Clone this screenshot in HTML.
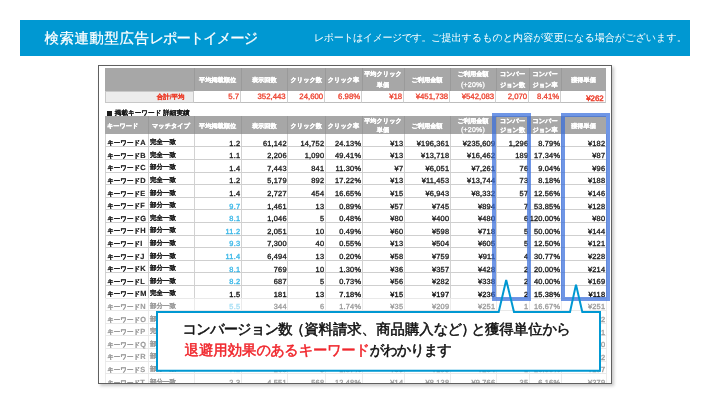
<!DOCTYPE html>
<html lang="ja"><head><meta charset="utf-8">
<style>
*{margin:0;padding:0;box-sizing:border-box}
html,body{width:710px;height:404px;overflow:hidden;background:#fff}
body{position:relative;font-family:"Liberation Sans",sans-serif;text-rendering:geometricPrecision}
.wrap{position:absolute;left:0;top:0;width:710px;height:404px;will-change:transform}
.bar{position:absolute;left:20px;top:20px;width:670px;height:36px;background:#0098d2}
.title{position:absolute;left:44.6px;top:29px;font-size:14.4px;line-height:20px;color:#fff;white-space:nowrap;-webkit-text-stroke:.25px #fff;letter-spacing:.6px}
.title .k{letter-spacing:-1.2px}
.sub{position:absolute;left:314px;top:32px;font-size:10.08px;line-height:14px;color:#fff;white-space:nowrap}
.frame{position:absolute;left:97.5px;top:64.8px;width:514.5px;height:319px;border:1.3px solid #606060;background:#fff;box-shadow:2px 2px 3px rgba(0,0,0,.22)}
.tbl{position:absolute;left:0;top:0;width:710px;height:383px;clip-path:inset(66px 99px 0 99px)}
.hd{position:absolute;background:#a7a7a7}
.hv{position:absolute;width:1px;background:#9a9a9a}
.ht,.ht2{position:absolute;display:flex;align-items:center;justify-content:center;text-align:center;color:#fff;font-weight:bold;font-size:6.2px;line-height:10.3px;white-space:nowrap;padding-top:1.2px;-webkit-text-stroke:.3px #fff}
.ht{padding-top:2.6px}
.ht.one{padding-top:4.4px}
.ht2{line-height:8.6px;padding-top:3.6px}
.ht2.l{justify-content:flex-start;padding-left:2px}
.sm0{position:absolute;background:#ececec;border:1px solid #c8c8c8;color:#ec3f2c;font-weight:bold;font-size:6.5px;text-align:right;padding-right:8.5px;line-height:11px;-webkit-text-stroke:.2px currentColor}
.sm{position:absolute;border-bottom:1px solid #bdbdbd;border-right:1px solid #d0d0d0;color:#ec3f2c;font-size:7.8px;text-align:right;padding-right:.8px;padding-top:.7px;line-height:11px;-webkit-text-stroke:.3px currentColor}
.sm.big{font-size:7.9px;line-height:11px;padding-top:2.6px;padding-right:1.3px;-webkit-text-stroke:.45px currentColor}
.lbl{position:absolute;left:107.3px;top:110.4px;font-size:6.6px;line-height:8px;font-weight:bold;color:#1a1a1a;white-space:nowrap;-webkit-text-stroke:.1px currentColor}
.sq{display:inline-block;width:4.5px;height:4.5px;background:#1a1a1a;margin-right:3px;vertical-align:-0.2px}
.gv{position:absolute;width:1px;background:#d2d2d2}
.gh{position:absolute;height:1px;background:#cfcfcf}
.c{position:absolute;height:12.6px;line-height:12px;padding-top:3.1px;white-space:nowrap;color:#1e1e1e}
.kw{padding-left:2.2px;font-size:6.5px;font-weight:bold;-webkit-text-stroke:.15px currentColor}
.mt{padding-left:2px;font-size:6.5px;font-weight:bold;-webkit-text-stroke:.12px currentColor}
.n{text-align:right;padding-right:.8px;padding-top:3.4px;font-size:7.4px;letter-spacing:.2px;-webkit-text-stroke:.35px currentColor}
.bl{color:#3cb8e8}
.kl{font-size:7.4px}
.n.bdr{color:#111}
.fade{position:absolute;left:99px;top:298px;width:512px;height:85px;background:rgba(255,255,255,.55)}
.hl{position:absolute;border:4.5px solid rgba(55,110,220,.72)}
.co{position:absolute;left:0;top:0}
.ct{position:absolute;left:182.5px;font-size:14.4px;line-height:20px;white-space:nowrap;color:#111;-webkit-text-stroke:.5px currentColor}
.po{margin-left:-.2em;position:relative;left:.5px}.pc2{letter-spacing:-.3em}.kn{letter-spacing:-1px}
.red{color:#f0262c}
.pc{font-size:7px;font-weight:normal;letter-spacing:.2px}
</style></head><body><div class="wrap">
<div class="bar"></div>
<div class="title">検索連動型広告<span class="k">レポートイメージ</span></div>
<div class="sub"><span style="letter-spacing:-.5px">レポートはイメージです。</span>ご提出するものと内容が変更になる場合がございます。</div>
<div class="frame"></div>
<div class="tbl">
<div class="hd" style="left:105px;top:68px;width:501px;height:22.5px"></div>
<div class="hv" style="left:193.5px;top:68px;height:22.5px"></div>
<div class="hv" style="left:240.5px;top:68px;height:22.5px"></div>
<div class="hv" style="left:287px;top:68px;height:22.5px"></div>
<div class="hv" style="left:324.5px;top:68px;height:22.5px"></div>
<div class="hv" style="left:361.5px;top:68px;height:22.5px"></div>
<div class="hv" style="left:403.5px;top:68px;height:22.5px"></div>
<div class="hv" style="left:449.5px;top:68px;height:22.5px"></div>
<div class="hv" style="left:495.5px;top:68px;height:22.5px"></div>
<div class="hv" style="left:528.5px;top:68px;height:22.5px"></div>
<div class="hv" style="left:560.5px;top:68px;height:22.5px"></div>
<div class="ht one" style="left:194px;top:68px;width:47px;height:22.5px"><span>平均掲載順位</span></div>
<div class="ht one" style="left:241px;top:68px;width:46.5px;height:22.5px"><span>表示回数</span></div>
<div class="ht one" style="left:287.5px;top:68px;width:37.5px;height:22.5px"><span>クリック数</span></div>
<div class="ht one" style="left:325px;top:68px;width:37px;height:22.5px"><span>クリック率</span></div>
<div class="ht" style="left:362px;top:68px;width:42px;height:22.5px"><span>平均クリック<br>単価</span></div>
<div class="ht one" style="left:404px;top:68px;width:46px;height:22.5px"><span>ご利用金額</span></div>
<div class="ht" style="left:450px;top:68px;width:46px;height:22.5px"><span>ご利用金額<br><span class=pc>(+20%)</span></span></div>
<div class="ht" style="left:496px;top:68px;width:33px;height:22.5px"><span>コンバー<br>ジョン数</span></div>
<div class="ht" style="left:529px;top:68px;width:32px;height:22.5px"><span>コンバー<br>ジョン率</span></div>
<div class="ht one" style="left:561px;top:68px;width:45px;height:22.5px"><span>獲得単価</span></div>
<div class="sm0" style="left:105px;top:90.5px;width:89px;height:12.5px">合計/平均</div>
<div class="sm" style="left:194px;top:90.5px;width:47px;height:12.5px">5.7</div>
<div class="sm" style="left:241px;top:90.5px;width:46.5px;height:12.5px">352,443</div>
<div class="sm" style="left:287.5px;top:90.5px;width:37.5px;height:12.5px">24,600</div>
<div class="sm" style="left:325px;top:90.5px;width:37px;height:12.5px">6.98%</div>
<div class="sm" style="left:362px;top:90.5px;width:42px;height:12.5px">¥18</div>
<div class="sm" style="left:404px;top:90.5px;width:46px;height:12.5px">¥451,738</div>
<div class="sm" style="left:450px;top:90.5px;width:46px;height:12.5px">¥542,083</div>
<div class="sm" style="left:496px;top:90.5px;width:33px;height:12.5px">2,070</div>
<div class="sm" style="left:529px;top:90.5px;width:32px;height:12.5px">8.41%</div>
<div class="sm big" style="left:561px;top:90.5px;width:45px;height:12.5px">¥262</div>
<div class="lbl"><span class=sq></span>掲載キーワード 詳細実績</div>
<div class="hd" style="left:105px;top:116.3px;width:501px;height:17.9px"></div>
<div class="hv" style="left:147.5px;top:116.3px;height:17.9px"></div>
<div class="hv" style="left:193.5px;top:116.3px;height:17.9px"></div>
<div class="hv" style="left:240.5px;top:116.3px;height:17.9px"></div>
<div class="hv" style="left:287px;top:116.3px;height:17.9px"></div>
<div class="hv" style="left:324.5px;top:116.3px;height:17.9px"></div>
<div class="hv" style="left:361.5px;top:116.3px;height:17.9px"></div>
<div class="hv" style="left:403.5px;top:116.3px;height:17.9px"></div>
<div class="hv" style="left:449.5px;top:116.3px;height:17.9px"></div>
<div class="hv" style="left:495.5px;top:116.3px;height:17.9px"></div>
<div class="hv" style="left:528.5px;top:116.3px;height:17.9px"></div>
<div class="hv" style="left:560.5px;top:116.3px;height:17.9px"></div>
<div class="ht2 l" style="left:105px;top:116.3px;width:43px;height:17.9px"><span>キーワード</span></div>
<div class="ht2" style="left:148px;top:116.3px;width:46px;height:17.9px"><span>マッチタイプ</span></div>
<div class="ht2" style="left:194px;top:116.3px;width:47px;height:17.9px"><span>平均掲載順位</span></div>
<div class="ht2" style="left:241px;top:116.3px;width:46.5px;height:17.9px"><span>表示回数</span></div>
<div class="ht2" style="left:287.5px;top:116.3px;width:37.5px;height:17.9px"><span>クリック数</span></div>
<div class="ht2" style="left:325px;top:116.3px;width:37px;height:17.9px"><span>クリック率</span></div>
<div class="ht2" style="left:362px;top:116.3px;width:42px;height:17.9px"><span>平均クリック<br>単価</span></div>
<div class="ht2" style="left:404px;top:116.3px;width:46px;height:17.9px"><span>ご利用金額</span></div>
<div class="ht2" style="left:450px;top:116.3px;width:46px;height:17.9px"><span>ご利用金額<br><span class=pc>(+20%)</span></span></div>
<div class="ht2" style="left:496px;top:116.3px;width:33px;height:17.9px"><span>コンバー<br>ジョン数</span></div>
<div class="ht2" style="left:529px;top:116.3px;width:32px;height:17.9px"><span>コンバー<br>ジョン率</span></div>
<div class="ht2" style="left:561px;top:116.3px;width:45px;height:17.9px"><span>獲得単価</span></div>
<div class="gv" style="left:104.5px;top:134.2px;height:252px"></div>
<div class="gv" style="left:147.5px;top:134.2px;height:252px"></div>
<div class="gv" style="left:193.5px;top:134.2px;height:252px"></div>
<div class="gv" style="left:240.5px;top:134.2px;height:252px"></div>
<div class="gv" style="left:287px;top:134.2px;height:252px"></div>
<div class="gv" style="left:324.5px;top:134.2px;height:252px"></div>
<div class="gv" style="left:361.5px;top:134.2px;height:252px"></div>
<div class="gv" style="left:403.5px;top:134.2px;height:252px"></div>
<div class="gv" style="left:449.5px;top:134.2px;height:252px"></div>
<div class="gv" style="left:495.5px;top:134.2px;height:252px"></div>
<div class="gv" style="left:528.5px;top:134.2px;height:252px"></div>
<div class="gv" style="left:560.5px;top:134.2px;height:252px"></div>
<div class="gv" style="left:605.5px;top:134.2px;height:252px"></div>
<div class="gh" style="left:105px;top:146.3px;width:501px"></div>
<div class="c kw" style="left:105px;top:134.2px;width:43px">キーワード<span class=kl>A</span></div>
<div class="c mt" style="left:148px;top:134.2px;width:46px">完全一致</div>
<div class="c n" style="left:194px;top:134.2px;width:47px">1.2</div>
<div class="c n" style="left:241px;top:134.2px;width:46.5px">61,142</div>
<div class="c n" style="left:287.5px;top:134.2px;width:37.5px">14,752</div>
<div class="c n" style="left:325px;top:134.2px;width:37px">24.13%</div>
<div class="c n" style="left:362px;top:134.2px;width:42px">¥13</div>
<div class="c n" style="left:404px;top:134.2px;width:46px">¥196,361</div>
<div class="c n" style="left:450px;top:134.2px;width:46px">¥235,609</div>
<div class="c n" style="left:496px;top:134.2px;width:33px">1,296</div>
<div class="c n" style="left:529px;top:134.2px;width:32px">8.79%</div>
<div class="c n" style="left:561px;top:134.2px;width:45px">¥182</div>
<div class="gh" style="left:105px;top:158.9px;width:501px"></div>
<div class="c kw" style="left:105px;top:146.8px;width:43px">キーワード<span class=kl>B</span></div>
<div class="c mt" style="left:148px;top:146.8px;width:46px">完全一致</div>
<div class="c n" style="left:194px;top:146.8px;width:47px">1.1</div>
<div class="c n" style="left:241px;top:146.8px;width:46.5px">2,206</div>
<div class="c n" style="left:287.5px;top:146.8px;width:37.5px">1,090</div>
<div class="c n" style="left:325px;top:146.8px;width:37px">49.41%</div>
<div class="c n" style="left:362px;top:146.8px;width:42px">¥13</div>
<div class="c n" style="left:404px;top:146.8px;width:46px">¥13,718</div>
<div class="c n" style="left:450px;top:146.8px;width:46px">¥16,462</div>
<div class="c n" style="left:496px;top:146.8px;width:33px">189</div>
<div class="c n" style="left:529px;top:146.8px;width:32px">17.34%</div>
<div class="c n" style="left:561px;top:146.8px;width:45px">¥87</div>
<div class="gh" style="left:105px;top:171.5px;width:501px"></div>
<div class="c kw" style="left:105px;top:159.4px;width:43px">キーワード<span class=kl>C</span></div>
<div class="c mt" style="left:148px;top:159.4px;width:46px">部分一致</div>
<div class="c n" style="left:194px;top:159.4px;width:47px">1.4</div>
<div class="c n" style="left:241px;top:159.4px;width:46.5px">7,443</div>
<div class="c n" style="left:287.5px;top:159.4px;width:37.5px">841</div>
<div class="c n" style="left:325px;top:159.4px;width:37px">11.30%</div>
<div class="c n" style="left:362px;top:159.4px;width:42px">¥7</div>
<div class="c n" style="left:404px;top:159.4px;width:46px">¥6,051</div>
<div class="c n" style="left:450px;top:159.4px;width:46px">¥7,261</div>
<div class="c n" style="left:496px;top:159.4px;width:33px">76</div>
<div class="c n" style="left:529px;top:159.4px;width:32px">9.04%</div>
<div class="c n" style="left:561px;top:159.4px;width:45px">¥96</div>
<div class="gh" style="left:105px;top:184.1px;width:501px"></div>
<div class="c kw" style="left:105px;top:172px;width:43px">キーワード<span class=kl>D</span></div>
<div class="c mt" style="left:148px;top:172px;width:46px">完全一致</div>
<div class="c n" style="left:194px;top:172px;width:47px">1.2</div>
<div class="c n" style="left:241px;top:172px;width:46.5px">5,179</div>
<div class="c n" style="left:287.5px;top:172px;width:37.5px">892</div>
<div class="c n" style="left:325px;top:172px;width:37px">17.22%</div>
<div class="c n" style="left:362px;top:172px;width:42px">¥13</div>
<div class="c n" style="left:404px;top:172px;width:46px">¥11,453</div>
<div class="c n" style="left:450px;top:172px;width:46px">¥13,744</div>
<div class="c n" style="left:496px;top:172px;width:33px">73</div>
<div class="c n" style="left:529px;top:172px;width:32px">8.18%</div>
<div class="c n" style="left:561px;top:172px;width:45px">¥188</div>
<div class="gh" style="left:105px;top:196.7px;width:501px"></div>
<div class="c kw" style="left:105px;top:184.6px;width:43px">キーワード<span class=kl>E</span></div>
<div class="c mt" style="left:148px;top:184.6px;width:46px">部分一致</div>
<div class="c n" style="left:194px;top:184.6px;width:47px">1.4</div>
<div class="c n" style="left:241px;top:184.6px;width:46.5px">2,727</div>
<div class="c n" style="left:287.5px;top:184.6px;width:37.5px">454</div>
<div class="c n" style="left:325px;top:184.6px;width:37px">16.65%</div>
<div class="c n" style="left:362px;top:184.6px;width:42px">¥15</div>
<div class="c n" style="left:404px;top:184.6px;width:46px">¥6,943</div>
<div class="c n" style="left:450px;top:184.6px;width:46px">¥8,332</div>
<div class="c n" style="left:496px;top:184.6px;width:33px">57</div>
<div class="c n" style="left:529px;top:184.6px;width:32px">12.56%</div>
<div class="c n" style="left:561px;top:184.6px;width:45px">¥146</div>
<div class="gh" style="left:105px;top:209.3px;width:501px"></div>
<div class="c kw" style="left:105px;top:197.2px;width:43px">キーワード<span class=kl>F</span></div>
<div class="c mt" style="left:148px;top:197.2px;width:46px">部分一致</div>
<div class="c n bl" style="left:194px;top:197.2px;width:47px">9.7</div>
<div class="c n" style="left:241px;top:197.2px;width:46.5px">1,461</div>
<div class="c n" style="left:287.5px;top:197.2px;width:37.5px">13</div>
<div class="c n" style="left:325px;top:197.2px;width:37px">0.89%</div>
<div class="c n" style="left:362px;top:197.2px;width:42px">¥57</div>
<div class="c n" style="left:404px;top:197.2px;width:46px">¥745</div>
<div class="c n" style="left:450px;top:197.2px;width:46px">¥894</div>
<div class="c n" style="left:496px;top:197.2px;width:33px">7</div>
<div class="c n" style="left:529px;top:197.2px;width:32px">53.85%</div>
<div class="c n" style="left:561px;top:197.2px;width:45px">¥128</div>
<div class="gh" style="left:105px;top:221.9px;width:501px"></div>
<div class="c kw" style="left:105px;top:209.8px;width:43px">キーワード<span class=kl>G</span></div>
<div class="c mt" style="left:148px;top:209.8px;width:46px">完全一致</div>
<div class="c n bl" style="left:194px;top:209.8px;width:47px">8.1</div>
<div class="c n" style="left:241px;top:209.8px;width:46.5px">1,046</div>
<div class="c n" style="left:287.5px;top:209.8px;width:37.5px">5</div>
<div class="c n" style="left:325px;top:209.8px;width:37px">0.48%</div>
<div class="c n" style="left:362px;top:209.8px;width:42px">¥80</div>
<div class="c n" style="left:404px;top:209.8px;width:46px">¥400</div>
<div class="c n" style="left:450px;top:209.8px;width:46px">¥480</div>
<div class="c n" style="left:496px;top:209.8px;width:33px">6</div>
<div class="c n" style="left:529px;top:209.8px;width:32px">120.00%</div>
<div class="c n" style="left:561px;top:209.8px;width:45px">¥80</div>
<div class="gh" style="left:105px;top:234.5px;width:501px"></div>
<div class="c kw" style="left:105px;top:222.4px;width:43px">キーワード<span class=kl>H</span></div>
<div class="c mt" style="left:148px;top:222.4px;width:46px">部分一致</div>
<div class="c n bl" style="left:194px;top:222.4px;width:47px">11.2</div>
<div class="c n" style="left:241px;top:222.4px;width:46.5px">2,051</div>
<div class="c n" style="left:287.5px;top:222.4px;width:37.5px">10</div>
<div class="c n" style="left:325px;top:222.4px;width:37px">0.49%</div>
<div class="c n" style="left:362px;top:222.4px;width:42px">¥60</div>
<div class="c n" style="left:404px;top:222.4px;width:46px">¥598</div>
<div class="c n" style="left:450px;top:222.4px;width:46px">¥718</div>
<div class="c n" style="left:496px;top:222.4px;width:33px">5</div>
<div class="c n" style="left:529px;top:222.4px;width:32px">50.00%</div>
<div class="c n" style="left:561px;top:222.4px;width:45px">¥144</div>
<div class="gh" style="left:105px;top:247.1px;width:501px"></div>
<div class="c kw" style="left:105px;top:235px;width:43px">キーワード<span class=kl>I</span></div>
<div class="c mt" style="left:148px;top:235px;width:46px">部分一致</div>
<div class="c n bl" style="left:194px;top:235px;width:47px">9.3</div>
<div class="c n" style="left:241px;top:235px;width:46.5px">7,300</div>
<div class="c n" style="left:287.5px;top:235px;width:37.5px">40</div>
<div class="c n" style="left:325px;top:235px;width:37px">0.55%</div>
<div class="c n" style="left:362px;top:235px;width:42px">¥13</div>
<div class="c n" style="left:404px;top:235px;width:46px">¥504</div>
<div class="c n" style="left:450px;top:235px;width:46px">¥605</div>
<div class="c n" style="left:496px;top:235px;width:33px">5</div>
<div class="c n" style="left:529px;top:235px;width:32px">12.50%</div>
<div class="c n" style="left:561px;top:235px;width:45px">¥121</div>
<div class="gh" style="left:105px;top:259.7px;width:501px"></div>
<div class="c kw" style="left:105px;top:247.6px;width:43px">キーワード<span class=kl>J</span></div>
<div class="c mt" style="left:148px;top:247.6px;width:46px">部分一致</div>
<div class="c n bl" style="left:194px;top:247.6px;width:47px">11.4</div>
<div class="c n" style="left:241px;top:247.6px;width:46.5px">6,494</div>
<div class="c n" style="left:287.5px;top:247.6px;width:37.5px">13</div>
<div class="c n" style="left:325px;top:247.6px;width:37px">0.20%</div>
<div class="c n" style="left:362px;top:247.6px;width:42px">¥58</div>
<div class="c n" style="left:404px;top:247.6px;width:46px">¥759</div>
<div class="c n" style="left:450px;top:247.6px;width:46px">¥911</div>
<div class="c n" style="left:496px;top:247.6px;width:33px">4</div>
<div class="c n" style="left:529px;top:247.6px;width:32px">30.77%</div>
<div class="c n" style="left:561px;top:247.6px;width:45px">¥228</div>
<div class="gh" style="left:105px;top:272.3px;width:501px"></div>
<div class="c kw" style="left:105px;top:260.2px;width:43px">キーワード<span class=kl>K</span></div>
<div class="c mt" style="left:148px;top:260.2px;width:46px">部分一致</div>
<div class="c n bl" style="left:194px;top:260.2px;width:47px">8.1</div>
<div class="c n" style="left:241px;top:260.2px;width:46.5px">769</div>
<div class="c n" style="left:287.5px;top:260.2px;width:37.5px">10</div>
<div class="c n" style="left:325px;top:260.2px;width:37px">1.30%</div>
<div class="c n" style="left:362px;top:260.2px;width:42px">¥36</div>
<div class="c n" style="left:404px;top:260.2px;width:46px">¥357</div>
<div class="c n" style="left:450px;top:260.2px;width:46px">¥428</div>
<div class="c n" style="left:496px;top:260.2px;width:33px">2</div>
<div class="c n" style="left:529px;top:260.2px;width:32px">20.00%</div>
<div class="c n" style="left:561px;top:260.2px;width:45px">¥214</div>
<div class="gh" style="left:105px;top:284.9px;width:501px"></div>
<div class="c kw" style="left:105px;top:272.8px;width:43px">キーワード<span class=kl>L</span></div>
<div class="c mt" style="left:148px;top:272.8px;width:46px">部分一致</div>
<div class="c n bl" style="left:194px;top:272.8px;width:47px">8.2</div>
<div class="c n" style="left:241px;top:272.8px;width:46.5px">687</div>
<div class="c n" style="left:287.5px;top:272.8px;width:37.5px">5</div>
<div class="c n" style="left:325px;top:272.8px;width:37px">0.73%</div>
<div class="c n" style="left:362px;top:272.8px;width:42px">¥56</div>
<div class="c n" style="left:404px;top:272.8px;width:46px">¥282</div>
<div class="c n" style="left:450px;top:272.8px;width:46px">¥338</div>
<div class="c n" style="left:496px;top:272.8px;width:33px">2</div>
<div class="c n" style="left:529px;top:272.8px;width:32px">40.00%</div>
<div class="c n" style="left:561px;top:272.8px;width:45px">¥169</div>
<div class="gh" style="left:105px;top:297.5px;width:501px"></div>
<div class="c kw bdr" style="left:105px;top:285.4px;width:43px">キーワード<span class=kl>M</span></div>
<div class="c mt bdr" style="left:148px;top:285.4px;width:46px">完全一致</div>
<div class="c n bdr" style="left:194px;top:285.4px;width:47px">1.5</div>
<div class="c n bdr" style="left:241px;top:285.4px;width:46.5px">181</div>
<div class="c n bdr" style="left:287.5px;top:285.4px;width:37.5px">13</div>
<div class="c n bdr" style="left:325px;top:285.4px;width:37px">7.18%</div>
<div class="c n bdr" style="left:362px;top:285.4px;width:42px">¥15</div>
<div class="c n bdr" style="left:404px;top:285.4px;width:46px">¥197</div>
<div class="c n bdr" style="left:450px;top:285.4px;width:46px">¥236</div>
<div class="c n bdr" style="left:496px;top:285.4px;width:33px">2</div>
<div class="c n bdr" style="left:529px;top:285.4px;width:32px">15.38%</div>
<div class="c n bdr" style="left:561px;top:285.4px;width:45px">¥118</div>
<div class="gh" style="left:105px;top:310.1px;width:501px"></div>
<div class="c kw" style="left:105px;top:298px;width:43px">キーワード<span class=kl>N</span></div>
<div class="c mt" style="left:148px;top:298px;width:46px">部分一致</div>
<div class="c n bl" style="left:194px;top:298px;width:47px">5.5</div>
<div class="c n" style="left:241px;top:298px;width:46.5px">344</div>
<div class="c n" style="left:287.5px;top:298px;width:37.5px">6</div>
<div class="c n" style="left:325px;top:298px;width:37px">1.74%</div>
<div class="c n" style="left:362px;top:298px;width:42px">¥35</div>
<div class="c n" style="left:404px;top:298px;width:46px">¥209</div>
<div class="c n" style="left:450px;top:298px;width:46px">¥251</div>
<div class="c n" style="left:496px;top:298px;width:33px">1</div>
<div class="c n" style="left:529px;top:298px;width:32px">16.67%</div>
<div class="c n" style="left:561px;top:298px;width:45px">¥251</div>
<div class="gh" style="left:105px;top:322.7px;width:501px"></div>
<div class="c kw" style="left:105px;top:310.6px;width:43px">キーワード<span class=kl>O</span></div>
<div class="c mt" style="left:148px;top:310.6px;width:46px">部分一致</div>
<div class="c n bl" style="left:194px;top:310.6px;width:47px">7.6</div>
<div class="c n" style="left:241px;top:310.6px;width:46.5px">412</div>
<div class="c n" style="left:287.5px;top:310.6px;width:37.5px">9</div>
<div class="c n" style="left:325px;top:310.6px;width:37px">2.18%</div>
<div class="c n" style="left:362px;top:310.6px;width:42px">¥41</div>
<div class="c n" style="left:404px;top:310.6px;width:46px">¥369</div>
<div class="c n" style="left:450px;top:310.6px;width:46px">¥443</div>
<div class="c n" style="left:496px;top:310.6px;width:33px">2</div>
<div class="c n" style="left:529px;top:310.6px;width:32px">22.22%</div>
<div class="c n" style="left:561px;top:310.6px;width:45px">¥222</div>
<div class="gh" style="left:105px;top:335.3px;width:501px"></div>
<div class="c kw" style="left:105px;top:323.2px;width:43px">キーワード<span class=kl>P</span></div>
<div class="c mt" style="left:148px;top:323.2px;width:46px">完全一致</div>
<div class="c n" style="left:194px;top:323.2px;width:47px">2.1</div>
<div class="c n" style="left:241px;top:323.2px;width:46.5px">520</div>
<div class="c n" style="left:287.5px;top:323.2px;width:37.5px">18</div>
<div class="c n" style="left:325px;top:323.2px;width:37px">3.46%</div>
<div class="c n" style="left:362px;top:323.2px;width:42px">¥22</div>
<div class="c n" style="left:404px;top:323.2px;width:46px">¥396</div>
<div class="c n" style="left:450px;top:323.2px;width:46px">¥475</div>
<div class="c n" style="left:496px;top:323.2px;width:33px">3</div>
<div class="c n" style="left:529px;top:323.2px;width:32px">16.67%</div>
<div class="c n" style="left:561px;top:323.2px;width:45px">¥161</div>
<div class="gh" style="left:105px;top:347.9px;width:501px"></div>
<div class="c kw" style="left:105px;top:335.8px;width:43px">キーワード<span class=kl>Q</span></div>
<div class="c mt" style="left:148px;top:335.8px;width:46px">部分一致</div>
<div class="c n bl" style="left:194px;top:335.8px;width:47px">6.3</div>
<div class="c n" style="left:241px;top:335.8px;width:46.5px">380</div>
<div class="c n" style="left:287.5px;top:335.8px;width:37.5px">7</div>
<div class="c n" style="left:325px;top:335.8px;width:37px">1.84%</div>
<div class="c n" style="left:362px;top:335.8px;width:42px">¥48</div>
<div class="c n" style="left:404px;top:335.8px;width:46px">¥336</div>
<div class="c n" style="left:450px;top:335.8px;width:46px">¥403</div>
<div class="c n" style="left:496px;top:335.8px;width:33px">2</div>
<div class="c n" style="left:529px;top:335.8px;width:32px">28.57%</div>
<div class="c n" style="left:561px;top:335.8px;width:45px">¥170</div>
<div class="gh" style="left:105px;top:360.5px;width:501px"></div>
<div class="c kw" style="left:105px;top:348.4px;width:43px">キーワード<span class=kl>R</span></div>
<div class="c mt" style="left:148px;top:348.4px;width:46px">部分一致</div>
<div class="c n bl" style="left:194px;top:348.4px;width:47px">9.1</div>
<div class="c n" style="left:241px;top:348.4px;width:46.5px">295</div>
<div class="c n" style="left:287.5px;top:348.4px;width:37.5px">4</div>
<div class="c n" style="left:325px;top:348.4px;width:37px">1.36%</div>
<div class="c n" style="left:362px;top:348.4px;width:42px">¥52</div>
<div class="c n" style="left:404px;top:348.4px;width:46px">¥208</div>
<div class="c n" style="left:450px;top:348.4px;width:46px">¥250</div>
<div class="c n" style="left:496px;top:348.4px;width:33px">1</div>
<div class="c n" style="left:529px;top:348.4px;width:32px">25.00%</div>
<div class="c n" style="left:561px;top:348.4px;width:45px">¥212</div>
<div class="gh" style="left:105px;top:373.1px;width:501px"></div>
<div class="c kw" style="left:105px;top:361px;width:43px">キーワード<span class=kl>S</span></div>
<div class="c mt" style="left:148px;top:361px;width:46px">部分一致</div>
<div class="c n bl" style="left:194px;top:361px;width:47px">7.2</div>
<div class="c n" style="left:241px;top:361px;width:46.5px">268</div>
<div class="c n" style="left:287.5px;top:361px;width:37.5px">5</div>
<div class="c n" style="left:325px;top:361px;width:37px">1.87%</div>
<div class="c n" style="left:362px;top:361px;width:42px">¥39</div>
<div class="c n" style="left:404px;top:361px;width:46px">¥195</div>
<div class="c n" style="left:450px;top:361px;width:46px">¥234</div>
<div class="c n" style="left:496px;top:361px;width:33px">1</div>
<div class="c n" style="left:529px;top:361px;width:32px">20.00%</div>
<div class="c n" style="left:561px;top:361px;width:45px">¥197</div>
<div class="gh" style="left:105px;top:385.7px;width:501px"></div>
<div class="c kw" style="left:105px;top:373.6px;width:43px">キーワード<span class=kl>T</span></div>
<div class="c mt" style="left:148px;top:373.6px;width:46px">部分一致</div>
<div class="c n" style="left:194px;top:373.6px;width:47px">2.3</div>
<div class="c n" style="left:241px;top:373.6px;width:46.5px">4,551</div>
<div class="c n" style="left:287.5px;top:373.6px;width:37.5px">568</div>
<div class="c n" style="left:325px;top:373.6px;width:37px">12.48%</div>
<div class="c n" style="left:362px;top:373.6px;width:42px">¥14</div>
<div class="c n" style="left:404px;top:373.6px;width:46px">¥8,138</div>
<div class="c n" style="left:450px;top:373.6px;width:46px">¥9,766</div>
<div class="c n" style="left:496px;top:373.6px;width:33px">35</div>
<div class="c n" style="left:529px;top:373.6px;width:32px">6.16%</div>
<div class="c n" style="left:561px;top:373.6px;width:45px">¥279</div>
</div>
<div class="fade"></div>
<div class="hl" style="left:491.8px;top:113px;width:39.5px;height:188px"></div>
<div class="hl" style="left:560.6px;top:112.7px;width:49.6px;height:188.3px"></div>
<svg class="co" width="710" height="404" viewBox="0 0 710 404"><rect x="157" y="312" width="443" height="58.7" fill="#fff"/><path d="M157 312 H498.7 L506.2 280 L514 312 H570 L576 284.6 L582.3 312 H600 V370.7 H157 Z" fill="none" stroke="#0098d2" stroke-width="2" stroke-linejoin="miter"/></svg>
<div class="ct" style="top:320px"><span class=kn>コンバージョン</span>数<span class="po">（</span>資料請求、商品購入<span class=kn>など</span><span class="pc2">）</span><span class=kn>と</span>獲得単位<span class=kn>から</span></div>
<div class="ct" style="top:341px;left:184.5px"><span class="red">退避用効果<span class=kn>のあ</span>る<span style="letter-spacing:-.4px">キーワード</span></span><span style="letter-spacing:-1.2px">がわかります</span></div>
</div></body></html>
